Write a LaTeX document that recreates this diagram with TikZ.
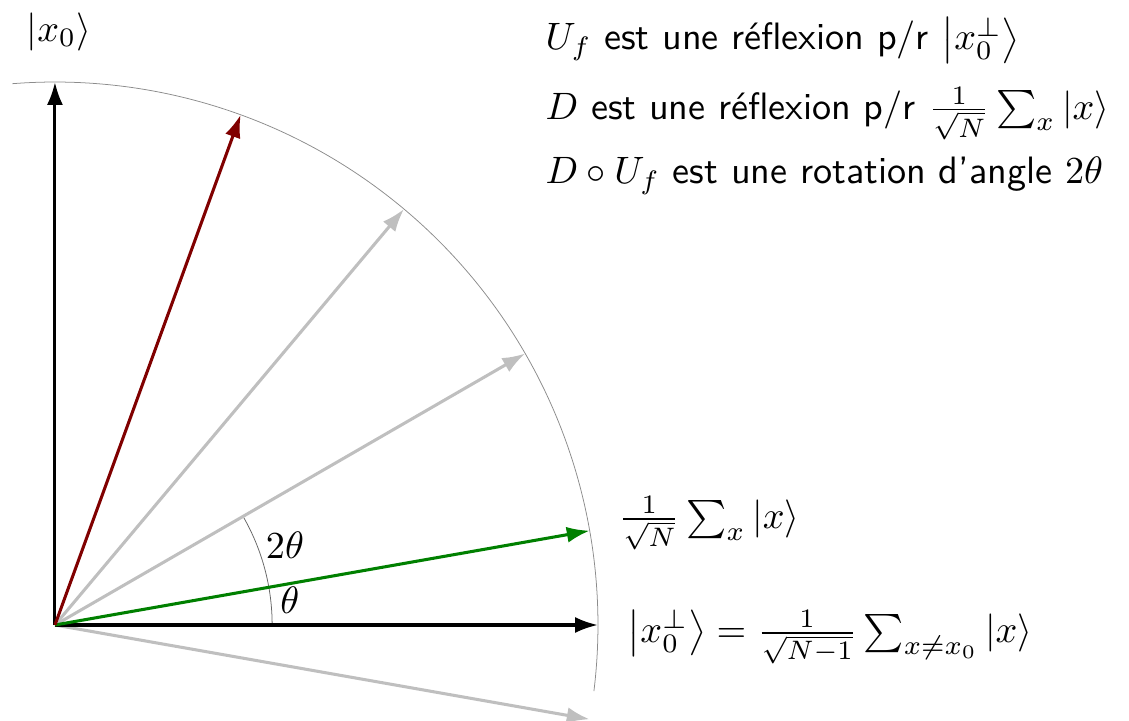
\documentclass[tikz,border=0pt]{standalone}
\usepackage{amsmath}
\usetikzlibrary{arrows.meta}
\begin{document}
\begin{tikzpicture}[x=1cm,y=1cm,
  vec/.style={thick,-{Latex[length=6pt,width=4.2pt]}},
  ghost/.style={vec,draw=black!25},
  lbl/.style={inner sep=0pt,anchor=base west},
  ]
\useasboundingbox (-0.506,-0.875) rectangle (9.890,5.755);
\def\R{5}
\coordinate (O) at (0,0);
\coordinate (Tm) at (-10:\R);
\coordinate (T1) at (10:\R);
\coordinate (T3) at (30:\R);
\coordinate (T5) at (50:\R);
\coordinate (T7) at (70:\R);
\coordinate (E) at (0:\R);
\coordinate (N) at (90:\R);
% big arc
\draw[black!45, very thin] (-7:\R) arc[start angle=-7,end angle=94.5,radius=\R];
% angle arc
\draw[black!60, very thin] (0:2) arc[start angle=0,end angle=30,radius=2];
% vectors
\draw[ghost] (O) -- (Tm);
\draw[ghost] (O) -- (T3);
\draw[ghost] (O) -- (T5);
\draw[vec] (O) -- (E);
\draw[vec] (O) -- (N);
\draw[vec,draw=green!50!black] (O) -- (T1);
\draw[vec,draw=red!50!black] (O) -- (T7);
% labels
\node (lx0) at (0.037,5.465) {$|x_0\rangle$};
\node (lth) at (2.164,0.23) {$\theta$};
\node (l2th) at (2.118,0.737) {$2\theta$};
\node[anchor=west,inner sep=0pt] (lsum) at (5.184,0.939) {$\frac{1}{\sqrt{N}}\sum_x|x\rangle$};
\node[anchor=west,inner sep=0pt] (lperp) at (5.267,-0.11) {$\left|x_0^{\perp}\right\rangle=\frac{1}{\sqrt{N-1}}\sum_{x\neq x_0}|x\rangle$};
\node[lbl] (t1) at (4.512,5.295) {$U_f$ \textsf{est une réflexion p/r} $\left|x_0^{\perp}\right\rangle$};
\node[lbl] (t2) at (4.512,4.659) {$D$ \textsf{est une réflexion p/r} $\frac{1}{\sqrt{N}}\sum_x|x\rangle$};
\node[lbl] (t3) at (4.512,4.061) {$D\circ U_f$ \textsf{est une rotation d'angle} $2\theta$};
\end{tikzpicture}
\end{document}
